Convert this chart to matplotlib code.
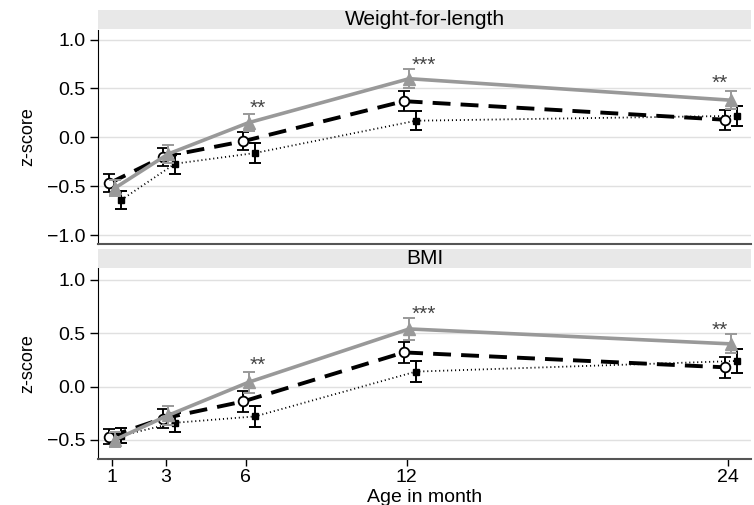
import numpy as np
import matplotlib.pyplot as plt

plt.rcParams['font.family'] = ['Liberation Sans', 'DejaVu Sans']

months = np.array([1, 3, 6, 12, 24])
xticks = [1, 3, 6, 12, 24]

# Weight-for-length z-scores
wfl_tri = [-0.52, -0.17, 0.15, 0.60, 0.38]
wfl_tri_err = [0.08, 0.09, 0.09, 0.10, 0.09]
wfl_circ = [-0.47, -0.20, -0.04, 0.37, 0.18]
wfl_circ_err = [0.09, 0.09, 0.09, 0.10, 0.10]
wfl_sq = [-0.64, -0.27, -0.16, 0.17, 0.22]
wfl_sq_err = [0.09, 0.10, 0.10, 0.10, 0.10]

# BMI z-scores
bmi_tri = [-0.50, -0.27, 0.04, 0.54, 0.40]
bmi_tri_err = [0.07, 0.09, 0.10, 0.10, 0.09]
bmi_circ = [-0.47, -0.30, -0.14, 0.32, 0.18]
bmi_circ_err = [0.07, 0.09, 0.10, 0.10, 0.10]
bmi_sq = [-0.46, -0.34, -0.28, 0.14, 0.24]
bmi_sq_err = [0.07, 0.09, 0.10, 0.10, 0.11]

# significance markers (month position, z-score level)
star_labels = ['**', '***', '**']
star_x = [6.45, 12.65, 23.7]
wfl_star_y = [0.30, 0.74, 0.55]
bmi_star_y = [0.20, 0.68, 0.53]

fig = plt.figure(figsize=(7.54, 5.05), dpi=100)

panels = [
    ('Weight-for-length', [0.130, 0.517, 0.866, 0.424], [0.130, 0.943, 0.866, 0.038],
     (-1.09, 1.10), [-1.0, -0.5, 0.0, 0.5, 1.0],
     (wfl_tri, wfl_tri_err), (wfl_circ, wfl_circ_err), (wfl_sq, wfl_sq_err), wfl_star_y),
    ('BMI', [0.130, 0.091, 0.866, 0.378], [0.130, 0.469, 0.866, 0.038],
     (-0.68, 1.11), [-0.5, 0.0, 0.5, 1.0],
     (bmi_tri, bmi_tri_err), (bmi_circ, bmi_circ_err), (bmi_sq, bmi_sq_err), bmi_star_y),
]

for i, (title, rect, srect, ylim, yticks, tri, circ, sq, stary) in enumerate(panels):
    ax = fig.add_axes(rect)
    # dotted black, filled squares
    ax.errorbar(months + 0.35, sq[0], yerr=sq[1], color='black', ls=(0, (0.6, 1.6)),
                lw=1.3, marker='s', ms=5, capsize=4, elinewidth=1.4, capthick=1.4, zorder=3)
    # dashed black, open circles
    ax.errorbar(months - 0.1, circ[0], yerr=circ[1], color='black', ls=(0, (4.6, 2.6)),
                lw=2.8, marker='o', ms=7, mfc='white', mec='black', mew=1.3,
                capsize=4, elinewidth=1.4, capthick=1.4, zorder=4)
    # solid gray, triangles
    ax.errorbar(months + 0.1, tri[0], yerr=tri[1], color='#999999', ls='-',
                lw=2.6, marker='^', ms=8, capsize=4, elinewidth=1.4, capthick=1.4, zorder=5)
    for sx, sy, lab in zip(star_x, stary, star_labels):
        ax.text(sx, sy, lab, ha='center', va='center', fontsize=15, color='#444444')

    ax.set_xlim(0.48, 24.86)
    ax.set_ylim(*ylim)
    ax.set_yticks(yticks)
    ax.set_yticklabels(['%.1f' % v if v >= 0 else '\u2212%.1f' % -v for v in yticks], fontsize=14)
    ax.grid(axis='y', color='#e0e0e0', lw=1)
    ax.set_axisbelow(True)
    ax.set_ylabel('z-score', fontsize=13)
    ax.yaxis.set_label_coords(-0.095, 0.5)
    for s in ['top', 'right']:
        ax.spines[s].set_visible(False)
    ax.spines['left'].set_color('black')
    ax.spines['bottom'].set_color('#555555')
    ax.spines['bottom'].set_linewidth(1.5)
    ax.tick_params(axis='y', length=6, width=1, pad=3)
    if i == 0:
        ax.set_xticks([])
    else:
        ax.set_xticks(xticks)
        ax.set_xticklabels([str(t) for t in xticks], fontsize=14)
        ax.tick_params(axis='x', length=5, width=1, pad=2)
        ax.set_xlabel('Age in month', fontsize=14, labelpad=2)

    sax = fig.add_axes(srect)
    sax.set_facecolor('#e8e8e8')
    sax.set_xticks([])
    sax.set_yticks([])
    for s in sax.spines.values():
        s.set_visible(False)
    sax.text(0.5, 0.5, title, ha='center', va='center', fontsize=15,
             transform=sax.transAxes)

fig.savefig('out.png', dpi=100)
